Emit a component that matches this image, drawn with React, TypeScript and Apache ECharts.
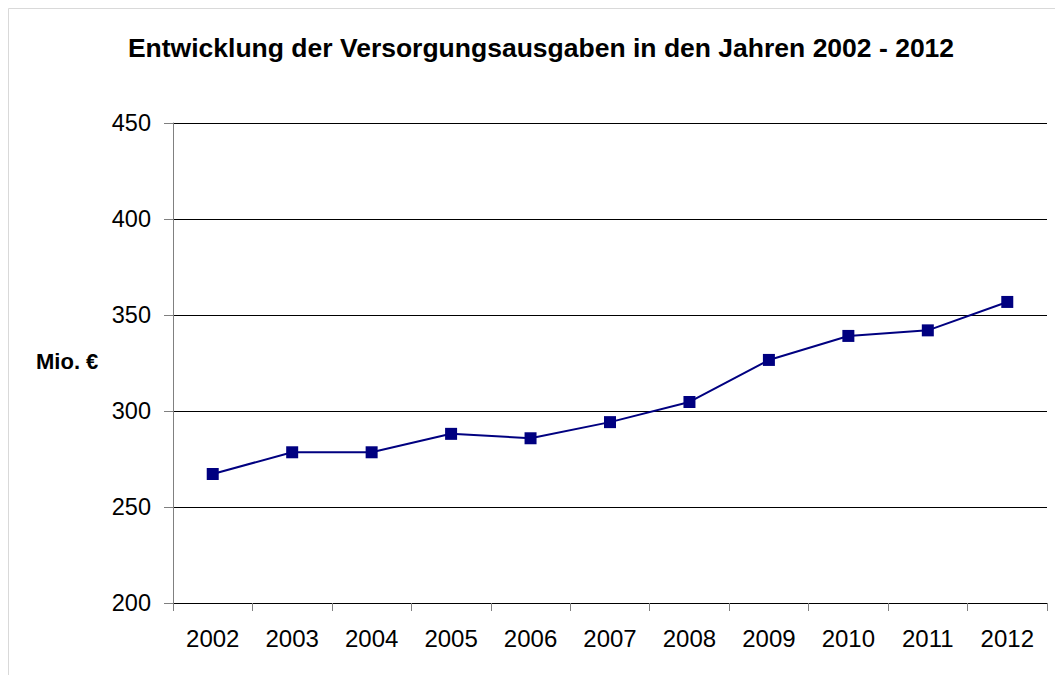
import React, { useEffect, useRef } from "react";
import * as echarts from "echarts";

const years = ["2002", "2003", "2004", "2005", "2006", "2007", "2008", "2009", "2010", "2011", "2012"];
const ausgaben = [267.2, 278.5, 278.5, 288.1, 285.8, 294.2, 304.7, 326.6, 339.1, 342.0, 356.8];
const titleText = "Entwicklung der Versorgungsausgaben in den Jahren 2002 - 2012";
const unitLabel = "Mio. €";

export default function App() {
  const ref = useRef<HTMLDivElement>(null);
  useEffect(() => {
    document.body.style.margin = "0";
    const chart = echarts.init(ref.current!, null, { renderer: "svg" });
    chart.setOption({
      animation: false,
      backgroundColor: "#ffffff",
      title: {
        text: titleText,
        left: 536,
        textAlign: "center",
        top: 29,
        textStyle: { fontFamily: "Liberation Sans, Arial", fontWeight: "bold", fontSize: 26.5, color: "#000" },
      },
      graphic: [
        {
          type: "rect",
          shape: { x: 8.5, y: 8.5, width: 1100, height: 700 },
          style: { fill: "none", stroke: "#d9d9d9", lineWidth: 1 },
          silent: true,
        },
        {
          type: "text",
          left: 36,
          top: 350,
          style: { text: unitLabel, font: "bold 22px 'Liberation Sans', Arial", fill: "#000" },
        },
      ],
      grid: { left: 173, right: 8, top: 123, bottom: 72 },
      xAxis: {
        type: "category",
        data: years,
        boundaryGap: true,
        axisLine: { lineStyle: { color: "#000", width: 1 } },
        axisTick: { show: true, length: 8, lineStyle: { color: "#808080" } },
        axisLabel: { color: "#000", fontFamily: "Liberation Sans, Arial", fontSize: 24, margin: 23 },
      },
      yAxis: {
        type: "value",
        min: 200,
        max: 450,
        interval: 50,
        axisLine: { show: true, lineStyle: { color: "#808080", width: 1 } },
        axisTick: { show: true, length: 9, lineStyle: { color: "#808080" } },
        axisLabel: { color: "#000", fontFamily: "Liberation Sans, Arial", fontSize: 23.5, margin: 22 },
        splitLine: { show: true, lineStyle: { color: "#000", width: 1 } },
      },
      series: [
        {
          type: "line",
          data: ausgaben,
          symbol: "rect",
          symbolSize: 12,
          lineStyle: { color: "#000080", width: 2 },
          itemStyle: { color: "#000080" },
        },
      ],
    });
    return () => chart.dispose();
  }, []);
  return <div ref={ref} style={{ width: 1055, height: 675 }} />;
}
